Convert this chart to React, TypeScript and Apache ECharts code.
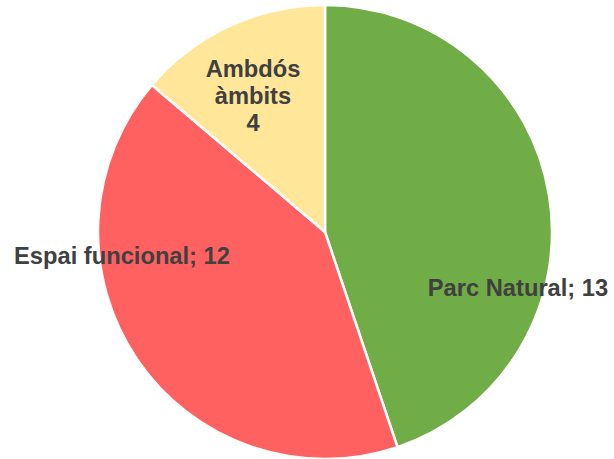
import React, { useEffect, useRef } from "react";
import * as echarts from "echarts";

const categories = ["Parc Natural", "Espai funcional", "Ambdós àmbits"];
const values = [13, 12, 4];
const colors = ["#70AD47", "#FF6161", "#FFE699"];
const labelTexts = ["Parc Natural; 13", "Espai funcional; 12", "Ambdós\nàmbits\n4"];
const labelPos = [
  [518, 288],
  [122, 256],
  [253, 96],
];

export default function App() {
  const ref = useRef<HTMLDivElement>(null);
  useEffect(() => {
    document.body.style.margin = "0";
    const chart = echarts.init(ref.current!, null, { renderer: "svg" });
    chart.setOption({
      animation: false,
      backgroundColor: "#ffffff",
      series: [
        {
          type: "pie",
          center: [325, 232],
          radius: [0, 227],
          startAngle: 90,
          clockwise: true,
          itemStyle: { borderColor: "#ffffff", borderWidth: 2.5 },
          label: {
            show: true,
            position: "inside",
            color: "#404040",
            fontFamily: "Liberation Sans, Arial, sans-serif",
            fontWeight: "bold",
            fontSize: 23.7,
            lineHeight: 27,
            align: "center",
            formatter: (p: any) => labelTexts[p.dataIndex],
          },
          labelLine: { show: false },
          labelLayout: (p: any) => ({
            x: labelPos[p.dataIndex][0],
            y: labelPos[p.dataIndex][1],
            align: "center",
            verticalAlign: "middle",
          }),
          emphasis: { disabled: true },
          data: categories.map((c, i) => ({
            name: c,
            value: values[i],
            itemStyle: { color: colors[i] },
          })),
        },
      ],
    });
    return () => chart.dispose();
  }, []);
  return (
    <div
      ref={ref}
      style={{ position: "absolute", left: 0, top: 0, width: 614, height: 459 }}
    />
  );
}
